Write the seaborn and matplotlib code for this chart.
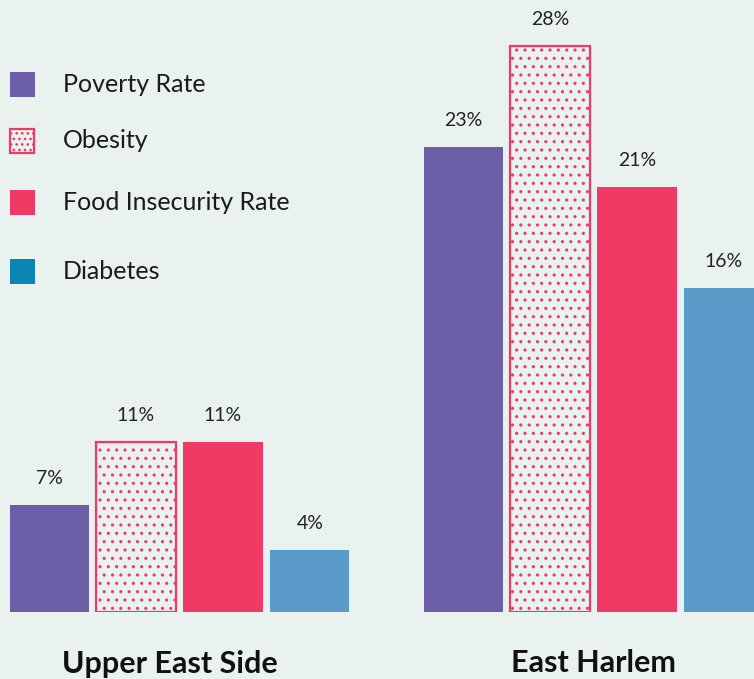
import matplotlib
matplotlib.use("Agg")
import matplotlib.pyplot as plt
import matplotlib.transforms as mtransforms
from matplotlib.patches import Rectangle
import seaborn as sns
import pandas as pd

# ---- data ----
groups = ["Upper East Side", "East Harlem"]
metrics = ["Poverty Rate", "Obesity", "Food Insecurity Rate", "Diabetes"]
# bar heights as drawn in the picture (percent units)
ues_heights = [5.3, 8.4, 8.4, 3.05]
eh_heights = [23.0, 28.0, 21.0, 16.0]
# printed labels
ues_labels = ["7%", "11%", "11%", "4%"]
eh_labels = ["23%", "28%", "21%", "16%"]

bar_colors = ["#6c5fa8", "#ef3a66", "#ef3a66", "#5b9bc9"]
legend_colors = ["#6c5fa8", "#ef3a66", "#ef3a66", "#0a86b5"]
bg = "#e9f2ef"

df = pd.DataFrame({
    "group": [g for g in groups for _ in metrics],
    "metric": metrics * 2,
    "value": ues_heights + eh_heights,
})

sns.set_theme(style="white")
plt.rcParams["font.family"] = ["Lato", "DejaVu Sans"]
plt.rcParams["hatch.linewidth"] = 1.1

W, H = 754, 679
fig = plt.figure(figsize=(W / 100, H / 100), dpi=100)
fig.patch.set_facecolor(bg)
base = 612
ax = fig.add_axes([0, (H - base) / H, 1, base / H])
ax.set_facecolor(bg)

sns.barplot(data=df, x="group", y="value", hue="metric", order=groups,
            hue_order=metrics, palette=bar_colors, saturation=1,
            width=0.84, gap=0.09, linewidth=0, legend=False, ax=ax)

# obesity bars: dotted pattern with outline
for p in ax.containers[1]:
    p.set_facecolor(bg)
    p.set_edgecolor(bar_colors[1])
    p.set_linewidth(1.6)
    p.set_hatch("..")

px_per_unit = 20.23
ax.set_ylim(0, base / px_per_unit)
grp_px = 414
ax.set_xlim(-179.5 / grp_px, (W - 179.5) / grp_px)

# value labels
for i, cont in enumerate(ax.containers):
    ax.bar_label(cont, labels=[ues_labels[i], eh_labels[i]], padding=13,
                 fontsize=14, color="#222222")

for s in ax.spines.values():
    s.set_visible(False)
ax.set_yticks([])
ax.set_ylabel("")
ax.set_xlabel("")
ax.tick_params(axis="x", length=0, pad=27)
for t in ax.get_xticklabels():
    t.set_fontsize(22)
    t.set_fontweight("bold")
    t.set_color("#111111")
# first group title sits slightly left of its bars in the reference
lbl0 = ax.get_xticklabels()[0]
lbl0.set_transform(lbl0.get_transform() +
                   mtransforms.ScaledTranslation(-0.10, 0, fig.dpi_scale_trans))

# legend (manual)
leg_y = [84.5, 141, 202.5, 271.5]
for i, (m, c) in enumerate(zip(metrics, legend_colors)):
    yc = leg_y[i]
    if m == "Obesity":
        r = Rectangle((10 / W, 1 - (yc + 12) / H), 24 / W, 24 / H,
                      transform=fig.transFigure, facecolor=bg, edgecolor=c,
                      linewidth=1.6, hatch="...")
    else:
        r = Rectangle((10 / W, 1 - (yc + 12.5) / H), 25 / W, 25 / H,
                      transform=fig.transFigure, facecolor=c, edgecolor="none")
    fig.add_artist(r)
    fig.text(63 / W, 1 - yc / H, m, fontsize=18, color="#1a1a1a",
             va="center", ha="left")

fig.savefig("out.png", dpi=100, facecolor=bg)
